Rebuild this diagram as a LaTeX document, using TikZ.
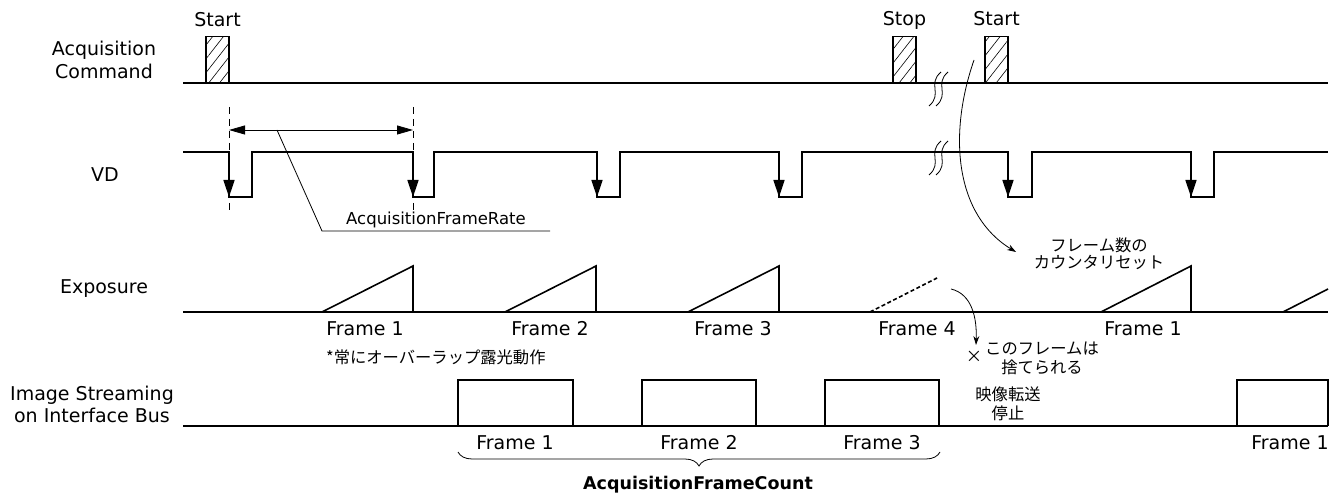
\documentclass[tikz,border=0pt]{standalone}
\usepackage{fontspec}
\setmainfont{DejaVu Sans}
\newfontfamily\jafont{Noto Sans CJK JP}
\usetikzlibrary{positioning,arrows.meta,patterns.meta,decorations.pathreplacing}

\begin{document}
\begin{tikzpicture}[x=1pt, y=-1pt,
  lbl/.style={inner sep=0pt, align=center, font=\fontsize{19}{23}\selectfont},
  jlbl/.style={inner sep=0pt, align=center, font=\fontsize{16.3}{19}\selectfont\jafont},
  sig/.style={line width=1.6pt},
  thin/.style={line width=0.8pt},
  cmd/.style={draw, line width=1.4pt, minimum width=23pt, minimum height=46pt,
              inner sep=0pt, anchor=south,
              pattern={Lines[angle=52, distance=8.5pt, line width=0.6pt]}},
  vdarr/.style={sig, -{Triangle[length=17pt, width=11pt]}},
  note/.style={thin, -{Stealth[length=9pt, width=6pt]}}]
  \useasboundingbox (0,0) rectangle (1343,502);

  \node[lbl] (lcmd) at (104,60) {Acquisition\\Command};
  \node[lbl] (lvd) at (105,175) {VD};
  \node[lbl] (lexp) at (104,289) {Exposure};
  \node[lbl, font=\fontsize{19}{22}\selectfont] (lbus) at (92,404) {Image Streaming\\on Interface Bus};

  \draw[sig] (183,83) -- (1328,83);
  \node[cmd] (st1) at (217.5,83) {};
  \node[cmd] (stp) at (904.5,83) {};
  \node[cmd] (st2) at (996.5,83) {};
  \node[lbl, text depth=0pt, above=10pt of st1] (tst1) {Start};
  \node[lbl, text depth=0pt, above=10pt of stp] (tstp) {Stop};
  \node[lbl, text depth=0pt, above=10pt of st2] (tst2) {Start};
  \foreach \y in {83,152}
    \foreach \x in {935,942}
      \draw[thin] (\x+6,\y-11) .. controls (\x-8,\y+1) and (\x+8,\y+11) .. (\x-6,\y+23);

  \draw[sig] (183,152) -| (229,197) -| (252,152) -| (413,197) -| (434,152) -| (597,197)
    -| (620,152) -| (779,197) -| (802,152) -| (1008,197) -| (1032,152) -| (1191,197)
    -| (1214,152) -- (1328,152);
  \foreach \x in {229,413,597,779,1008,1191}
    \draw[vdarr] (\x,152) -- (\x,197);

  \draw[thin, dash pattern=on 7pt off 5pt] (229,107) -- (229,210);
  \draw[thin, dash pattern=on 7pt off 5pt] (413,107) -- (413,210);
  \coordinate (fr1) at (229,130);
  \coordinate (fr2) at (413,130);
  \draw[thin, {Triangle[length=16pt,width=9pt]}-{Triangle[length=16pt,width=9pt]}] (fr1) -- (fr2);
  \node[lbl, font=\fontsize{16.5}{20}\selectfont] (frrate) at (436,220) {AcquisitionFrameRate};
  \coordinate (frl) at (277,130);
  \coordinate (frk) at (322,231);
  \coordinate (fre) at (550,231);
  \draw[thin] (frl) -- (frk) -- (fre);

  \draw[sig] (183,312) -- (1328,312);
  \foreach \a/\b in {322/413,505/596,688/779,1101/1191}
    \draw[sig] (\a,312) -- (\b,266) -- (\b,312);
  \draw[sig] (1283,312) -- (1328,289);
  \draw[sig, dash pattern=on 4pt off 2.5pt] (870,312) -- (937,278);
  \foreach \x/\n/\t in {365/e1/1,550/e2/2,733/e3/3,917/e4/4,1143/e5/1}
    \node[lbl] (\n) at (\x,329) {Frame \t};
  \node[jlbl, anchor=west] (ovl) at (326,357) {*常にオーバーラップ露光動作};

  \draw[sig] (183,426) -- (1328,426);
  \foreach \a/\b in {458/573,642/756,825/939,1237/1328}
    \draw[sig] (\a,426) |- (\b,380) -- (\b,426);
  \foreach \x/\n/\t in {515/b1/1,699/b2/2,882/b3/3,1290/b4/1}
    \node[lbl] (\n) at (\x,443) {Frame \t};

  \coordinate (brl) at (458,452);
  \coordinate (brr) at (940,452);
  \draw[thin, decorate, decoration={brace, mirror, amplitude=14pt}] (brl) -- (brr);
  \node[lbl, font=\fontsize{17.5}{21}\selectfont\bfseries] (afc) at (698,485) {AcquisitionFrameCount};

  \coordinate (rs) at (974,60);
  \coordinate (re) at (1016,252);
  \draw[note] (rs) .. controls (948,135) and (955,215) .. (re);
  \node[jlbl, font=\fontsize{16.3}{17}\selectfont\jafont] (reset) at (1099,254) {フレーム数の\\カウンタリセット};
  \coordinate (ds) at (951,289);
  \coordinate (de) at (976,345);
  \draw[note] (ds) .. controls (972,294) and (977,318) .. (de);
  \node[jlbl] (cross) at (974,357) {×};
  \node[jlbl] (drop) at (1042,358) {このフレームは\\捨てられる};
  \node[jlbl] (halt) at (1008,404) {映像転送\\停止};
\end{tikzpicture}
\end{document}
